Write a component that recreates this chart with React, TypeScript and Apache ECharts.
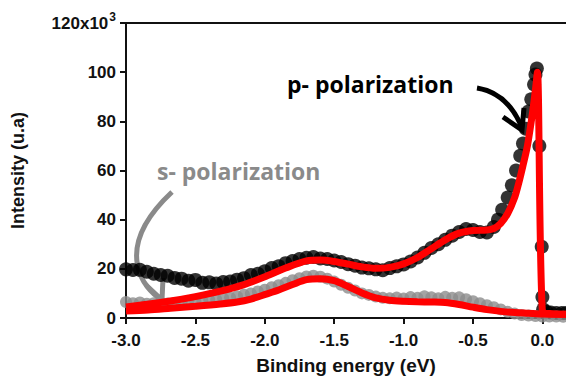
import React, { useEffect, useRef } from "react";
import * as echarts from "echarts";

// p-polarization measured data (binding energy eV, intensity x10^3)
const pDataEnergy = [
  -3.0, -2.95, -2.9, -2.85, -2.8, -2.75, -2.7, -2.65, -2.6, -2.55, -2.5, -2.45, -2.4, -2.35, -2.3, -2.25,
  -2.2, -2.15, -2.1, -2.05, -2.0, -1.95, -1.9, -1.85, -1.8, -1.75, -1.7, -1.65, -1.6, -1.55, -1.5, -1.45,
  -1.4, -1.35, -1.3, -1.25, -1.2, -1.15, -1.1, -1.05, -1.0, -0.95, -0.9, -0.85, -0.8, -0.75, -0.7, -0.65,
  -0.6, -0.55, -0.5, -0.45, -0.4, -0.35, -0.32, -0.29, -0.25, -0.22, -0.19, -0.16, -0.14, -0.12, -0.1,
  -0.08, -0.06, -0.05, -0.04, -0.022, -0.005, 0.0, 0.005, 0.03, 0.06, 0.1, 0.14, 0.17,
];
const pDataValue = [
  19.8, 19.5, 19.6, 18.8, 18.0, 17.5, 17.2, 16.3, 16.0, 15.2, 15.5, 14.3, 14.5, 14.0, 14.6, 14.8,
  15.6, 16.2, 17.5, 18.0, 19.0, 20.3, 21.0, 22.3, 23.2, 24.0, 24.5, 24.8, 24.2, 24.0, 23.4, 22.8,
  21.9, 21.3, 20.5, 20.2, 19.8, 19.4, 20.3, 21.0, 21.8, 23.0, 24.6, 26.5, 28.5, 30.0, 31.8, 33.5,
  35.0, 36.2, 35.8, 35.0, 34.8, 37.0, 40.0, 44.0, 49.0, 54.0, 60.0, 66.0, 71.0, 77.0, 84.0,
  89.0, 95.0, 99.0, 101.5, 70.0, 29.0, 8.5, 3.5, 2.5, 2.2, 2.0, 2.0, 2.0,
];

// p-polarization fit
const pFitEnergy = [
  -3.0, -2.85, -2.68, -2.5, -2.32, -2.15, -1.99, -1.85, -1.7, -1.6, -1.5, -1.4, -1.3, -1.2, -1.1, -1.0,
  -0.9, -0.8, -0.7, -0.6, -0.5, -0.4, -0.35, -0.3, -0.25, -0.2, -0.17, -0.14, -0.108, -0.07, -0.05,
  -0.036, 0.0, 0.05, 0.1, 0.17,
];
const pFitValue = [
  4.5, 5.6, 6.9, 8.7, 10.9, 13.6, 17.0, 20.3, 23.2, 23.6, 23.0, 21.9, 20.8, 20.2, 20.6, 22.0,
  24.6, 28.2, 31.8, 34.5, 35.6, 35.8, 36.4, 38.5, 42.5, 49.0, 55.0, 62.0, 70.0, 84.0, 93.0,
  100.0, 2.5, 1.8, 1.6, 1.5,
];

// s-polarization measured data
const sDataEnergy = [
  -3.0, -2.95, -2.9, -2.85, -2.8, -2.75, -2.7, -2.65, -2.6, -2.55, -2.5, -2.45, -2.4, -2.35, -2.3, -2.25,
  -2.2, -2.15, -2.1, -2.05, -2.0, -1.95, -1.9, -1.85, -1.8, -1.75, -1.7, -1.65, -1.6, -1.55, -1.5, -1.45,
  -1.4, -1.35, -1.3, -1.25, -1.2, -1.15, -1.1, -1.05, -1.0, -0.95, -0.9, -0.85, -0.8, -0.75, -0.7, -0.65,
  -0.6, -0.55, -0.5, -0.45, -0.4, -0.35, -0.3, -0.25, -0.2, -0.15, -0.1, -0.05, 0.0, 0.05, 0.1, 0.15,
];
const sDataValue = [
  6.5, 6.0, 6.3, 5.8, 6.0, 6.2, 5.9, 6.1, 6.4, 6.5, 6.8, 7.0, 7.3, 7.5, 8.0, 8.3,
  8.8, 9.5, 10.0, 10.8, 11.5, 12.5, 13.3, 14.3, 15.4, 16.2, 16.9, 17.2, 16.8, 16.0, 14.8, 13.5,
  12.3, 11.2, 10.0, 9.4, 8.7, 8.2, 8.0, 8.3, 7.9, 8.5, 8.2, 8.8, 8.4, 8.0, 8.6, 8.2,
  8.4, 7.6, 6.8, 6.0, 5.2, 4.4, 3.5, 2.5, 1.8, 1.2, 1.0, 0.8, 0.6, 0.6, 0.6, 0.5,
];

// s-polarization fit
const sFitEnergy = [
  -3.0, -2.84, -2.68, -2.5, -2.32, -2.2, -2.1, -1.99, -1.9, -1.8, -1.7, -1.6, -1.5, -1.4, -1.3, -1.2,
  -1.1, -1.0, -0.9, -0.8, -0.7, -0.6, -0.5, -0.4, -0.3, -0.2, -0.1, 0.0, 0.1, 0.17,
];
const sFitValue = [
  2.8, 3.3, 4.0, 4.8, 5.7, 6.5, 7.7, 9.7, 11.4, 13.6, 15.6, 16.0, 15.2, 12.8, 10.2, 8.2,
  7.2, 6.8, 6.6, 6.5, 6.3, 5.5, 4.4, 3.4, 2.7, 2.2, 1.9, 1.6, 1.5, 1.5,
];

const xTicks = [-3.0, -2.5, -2.0, -1.5, -1.0, -0.5, 0.0];
const yTicks = [0, 20, 40, 60, 80, 100, 120];

const zip = (xs: number[], ys: number[]) => xs.map((x, i) => [x, ys[i]]);

const AXIS_FONT = "'Liberation Sans', Arial, sans-serif";
const NOTE_FONT = "'Open Sans', Lato, sans-serif";

export default function App() {
  const ref = useRef<HTMLDivElement>(null);
  useEffect(() => {
    if (!ref.current) return;
    const chart = echarts.init(ref.current, undefined, { renderer: "svg" });
    chart.setOption({
      animation: false,
      backgroundColor: "#ffffff",
      grid: { left: 126, top: 23, right: 0, bottom: 61, show: false },
      xAxis: [
        {
          type: "value",
          min: -3.0,
          max: 0.17,
          interval: 0.5,
          name: "Binding energy (eV)",
          nameLocation: "middle",
          nameGap: 38,
          nameTextStyle: { fontFamily: AXIS_FONT, fontWeight: "bold", fontSize: 19, color: "#111" },
          axisLine: { show: true, onZero: false, lineStyle: { color: "#111", width: 2 } },
          axisTick: { show: true, length: 6, lineStyle: { color: "#111", width: 2 } },
          splitLine: { show: false },
          axisLabel: {
            fontFamily: AXIS_FONT,
            fontWeight: "bold",
            fontSize: 17,
            color: "#111",
            margin: 14,
            showMaxLabel: false,
            formatter: (v: number) =>
              xTicks.some((t) => Math.abs(t - v) < 1e-6) ? v.toFixed(1) : "",
          },
        },
        {
          type: "value",
          position: "top",
          min: -3.0,
          max: 0.17,
          interval: 0.5,
          axisLine: { show: true, onZero: false, lineStyle: { color: "#111", width: 2 } },
          axisTick: { show: false },
          axisLabel: { show: false },
          splitLine: { show: false },
        },
      ],
      yAxis: {
        type: "value",
        min: 0,
        max: 120,
        interval: 20,
        name: "Intensity (u.a)",
        nameLocation: "middle",
        nameGap: 99,
        nameTextStyle: {
          fontFamily: AXIS_FONT,
          fontWeight: "bold",
          fontSize: 18,
          color: "#111",
          padding: [0, 0, 0, 0],
        },
        axisLine: { show: true, onZero: false, lineStyle: { color: "#111", width: 2 } },
        axisTick: { show: true, length: 6, lineStyle: { color: "#111", width: 2 } },
        splitLine: { show: false },
        axisLabel: {
          fontFamily: AXIS_FONT,
          fontWeight: "bold",
          fontSize: 17,
          color: "#111",
          margin: 10,
          formatter: (v: number) =>
            v === yTicks[yTicks.length - 1] ? "{a|120x10}{s|3}" : String(v),
          rich: {
            a: { fontFamily: AXIS_FONT, fontWeight: "bold", fontSize: 17, color: "#111" },
            s: {
              fontFamily: AXIS_FONT,
              fontWeight: "bold",
              fontSize: 12,
              color: "#111",
              verticalAlign: "top",
              padding: [0, 0, 12, 1],
            },
          },
        },
      },
      series: [
        {
          type: "scatter",
          data: zip(pDataEnergy, pDataValue),
          symbol: "circle",
          symbolSize: 14,
          itemStyle: { color: "#000" },
          z: 2,
        },
        {
          type: "scatter",
          data: zip(sDataEnergy, sDataValue),
          symbol: "circle",
          symbolSize: 12,
          itemStyle: { color: "#8c8c8c" },
          z: 3,
        },
        {
          type: "line",
          data: zip(pFitEnergy, pFitValue),
          smooth: 0.3,
          showSymbol: false,
          lineStyle: { color: "#ff0000", width: 7 },
          z: 4,
        },
        {
          type: "line",
          data: zip(sFitEnergy, sFitValue),
          smooth: 0.3,
          showSymbol: false,
          lineStyle: { color: "#ff0000", width: 7 },
          z: 4,
        },
      ],
      graphic: [
        {
          type: "text",
          left: 287,
          top: 72,
          style: {
            text: "p- polarization",
            fontFamily: NOTE_FONT,
            fontWeight: "bold",
            fontSize: 23,
            fill: "#000",
          },
        },
        {
          type: "text",
          left: 157,
          top: 159,
          style: {
            text: "s- polarization",
            fontFamily: NOTE_FONT,
            fontWeight: "bold",
            fontSize: 23,
            fill: "#8a8a8a",
          },
        },
        {
          type: "bezierCurve",
          shape: { x1: 477, y1: 88, x2: 522, y2: 128, cpx1: 508, cpy1: 93 },
          style: { stroke: "#000", lineWidth: 5, fill: "none" },
        },
        {
          type: "polyline",
          shape: { points: [[503, 117], [522, 130], [524, 108]] },
          style: { stroke: "#000", lineWidth: 5, fill: "none" },
        },
        {
          type: "bezierCurve",
          shape: { x1: 172, y1: 192, x2: 161, y2: 299, cpx1: 110, cpy1: 250, cpx2: 145, cpy2: 290 },
          style: { stroke: "#8a8a8a", lineWidth: 5, fill: "none" },
        },
        {
          type: "polyline",
          shape: { points: [[146, 285], [162, 300], [163, 278]] },
          style: { stroke: "#8a8a8a", lineWidth: 5, fill: "none" },
        },
      ],
    });
    return () => chart.dispose();
  }, []);
  return (
    <div
      ref={ref}
      style={{ position: "fixed", left: 0, top: 0, width: 566, height: 380, background: "#fff" }}
    />
  );
}
